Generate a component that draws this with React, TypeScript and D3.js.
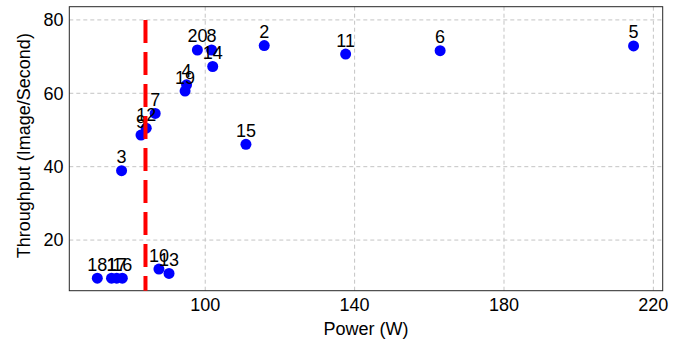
import React from "react";
import * as d3 from "d3";

// measured configurations (id, power in W, throughput in images/s)
const ids = [1, 2, 3, 4, 5, 6, 7, 8, 9, 10, 11, 12, 13, 14, 15, 16, 17, 18, 19, 20];
const power = [74.9, 115.8, 77.6, 95.0, 214.7, 162.9, 86.6, 101.7, 82.8, 87.6, 137.6, 84.2, 90.3, 102.0, 110.9, 77.8, 76.3, 71.1, 94.6, 97.9];
const throughput = [9.6, 73.0, 38.9, 62.3, 72.9, 71.6, 54.5, 71.8, 48.6, 12.1, 70.7, 50.5, 10.9, 67.3, 46.1, 9.6, 9.6, 9.6, 60.6, 71.8];

const xTicks = [100, 140, 180, 220];
const yTicks = [20, 40, 60, 80];
const powerLimit = 84; // red dashed budget line
const limitTop = 80;

const W = 691;
const H = 341;
const left = 69.3, right = 662.7, top = 6.7, bottom = 290.7;
const font = "'Liberation Sans', Arial, Helvetica, sans-serif";

const App = () => {
	const x = d3.scaleLinear().domain([63.6, 222.5]).range([left, right]);
	const y = d3.scaleLinear().domain([6.2, 83.6]).range([bottom, top]);

	const pts = ids.map((id, i) => ({ id, px: power[i], ty: throughput[i] }));

	return (
		<svg width={W} height={H} style={{ position: "absolute", left: 0, top: 0, background: "#fff" }}
			fontFamily={font}>
			<rect x={0} y={0} width={W} height={H} fill="#fff" />
			{/* grid */}
			<g stroke="#c4c4c4" strokeWidth={1} strokeDasharray="4,3">
				{xTicks.map(t => (
					<line key={"gx" + t} x1={x(t)} x2={x(t)} y1={top} y2={bottom} />
				))}
				{yTicks.map(t => (
					<line key={"gy" + t} x1={left} x2={right} y1={y(t)} y2={y(t)} />
				))}
			</g>
			{/* box */}
			<rect x={left} y={top} width={right - left} height={bottom - top}
				fill="none" stroke="#262626" strokeWidth={1} />
			{/* tick labels */}
			<g fontSize={18} fill="#000">
				{xTicks.map(t => (
					<text key={"tx" + t} x={x(t)} y={310.5} textAnchor="middle">{t}</text>
				))}
				{yTicks.map(t => (
					<text key={"ty" + t} x={63.5} y={y(t)} dy="0.35em" textAnchor="end">{t}</text>
				))}
			</g>
			{/* axis titles */}
			<text x={(left + right) / 2} y={334.5} textAnchor="middle" fontSize={18}>Power (W)</text>
			<text transform={`translate(29.5, ${(top + bottom) / 2 - 3}) rotate(-90)`} textAnchor="middle" fontSize={18}>
				Throughput (Image/Second)
			</text>
			{/* points */}
			<g fill="#0000ff">
				{pts.map(d => (
					<circle key={"c" + d.id} cx={x(d.px)} cy={y(d.ty)} r={5.5} />
				))}
			</g>
			<g fontSize={18} fill="#000" textAnchor="middle">
				{pts.map(d => (
					<text key={"l" + d.id} x={x(d.px)} y={y(d.ty) - 7.5}>{d.id}</text>
				))}
			</g>
			{/* power limit */}
			<line x1={x(powerLimit)} x2={x(powerLimit)} y1={y(limitTop)} y2={bottom}
				stroke="#ff0000" strokeWidth={4} strokeDasharray="23,9" />
		</svg>
	);
};

export default App;
